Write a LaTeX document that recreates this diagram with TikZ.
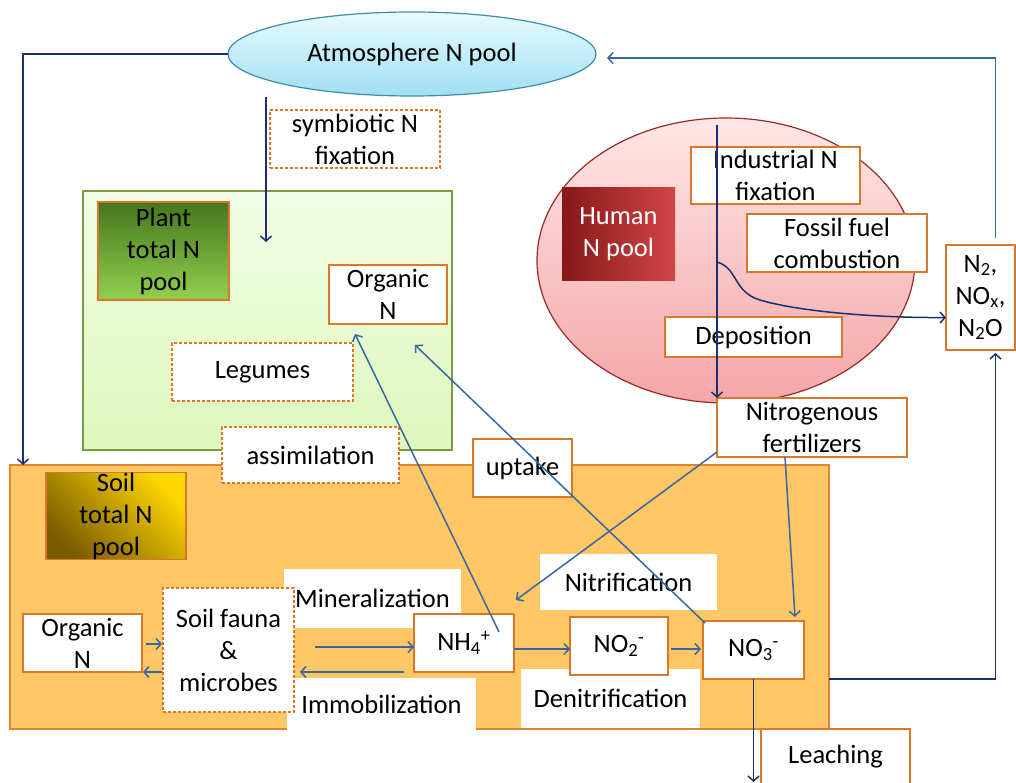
\documentclass[tikz,border=0pt]{standalone}
\usepackage{fontspec}
\setmainfont{Carlito}
\usetikzlibrary{arrows.meta,calc,shapes.geometric}
\definecolor{obord}{HTML}{D9782A}
\definecolor{soilfill}{HTML}{FFC766}
\definecolor{soilbord}{HTML}{E0862F}
\definecolor{plantbord}{HTML}{7C9A45}
\definecolor{ablue}{HTML}{3A67A0}
\definecolor{navy}{HTML}{1E2F70}
\tikzset{
 every node/.style={font=\fontsize{26.5}{32}\selectfont, inner sep=0pt, outer sep=0pt, align=center},
 sz/.style 2 args={minimum width=#1, minimum height=#2},
 obox/.style={rectangle, draw=obord, line width=1.5pt, fill=white},
 dbox/.style={rectangle, draw=obord, line width=1.2pt, dash pattern=on 3pt off 2pt, fill=white},
 wbox/.style={rectangle, fill=white},
 arr/.style={draw=ablue, line width=1.5pt, -{Straight Barb[length=5pt,width=11pt]}},
 narr/.style={arr, draw=navy},
}
\begin{document}
\begin{tikzpicture}[x=1pt,y=-1pt]
\useasboundingbox (0,0) rectangle (1016,783);
% big regions
\node[rectangle, draw=soilbord, line width=1.5pt, fill=soilfill, sz={819}{264}] (soil) at (419.5,597) {};
\node[rectangle, draw=plantbord, line width=1.5pt, top color={rgb,255:red,242;green,253;blue,230}, bottom color={rgb,255:red,221;green,247;blue,188}, sz={369}{259}] (plant) at (267.5,320.5) {};
\node[ellipse, draw={rgb,255:red,154;green,42;blue,42}, line width=1.2pt, top color={rgb,255:red,255;green,230;blue,230}, bottom color={rgb,255:red,244;green,166;blue,168}, sz={378}{285}] (human) at (726,260.5) {};
\node[ellipse, draw={rgb,255:red,60;green,141;blue,170}, line width=1.2pt, top color={rgb,255:red,232;green,250;blue,255}, bottom color={rgb,255:red,159;green,223;blue,242}, sz={368}{84}] (atm) at (412,54) {Atmosphere N pool};
% labels of pools
\node[rectangle, draw=obord, line width=1.5pt, top color={rgb,255:red,70;green,118;blue,28}, bottom color={rgb,255:red,146;green,208;blue,80}, sz={131}{98}] (plantlbl) at (163.5,251) {Plant\\total N\\pool};
\node[rectangle, draw=obord, line width=1.2pt, top color={rgb,255:red,255;green,215;blue,0}, bottom color={rgb,255:red,122;green,92;blue,0}, shading angle=-45, sz={140}{86}] (soillbl) at (116,516) {Soil\\total N\\pool};
\node[rectangle, left color={rgb,255:red,135;green,24;blue,24}, right color={rgb,255:red,210;green,69;blue,69}, text=white, sz={113}{93}] (humlbl) at (618.5,234.5) {Human\\N pool};
% plant boxes
\node[dbox, sz={170}{58}] (sym) at (355,139) {symbiotic N\\fixation};
\node[obox, sz={118}{59}] (orgp) at (388,294.5) {Organic\\N};
\node[dbox, sz={181}{58}] (leg) at (262.5,372) {Legumes};
% human boxes
\node[obox, sz={169}{57}] (ind) at (775.5,175.5) {Industrial N\\fixation};
\node[obox, sz={180}{58}] (fossil) at (837,243) {Fossil fuel\\combustion};
\node[obox, sz={177}{40}] (depo) at (753.5,337) {Deposition};
\node[obox, sz={190}{59}] (fert) at (812,427.5) {Nitrogenous\\fertilizers};
\node[obox, sz={69}{105}] (gas) at (980.5,297.5) {N\textsubscript{2},\\NO\textsubscript{x},\\N\textsubscript{2}O};
% soil boxes
\node[wbox, sz={177}{59}] (mineral) at (372.5,598.5) {Mineralization};
\node[wbox, sz={189}{52}] (immob) at (381.5,704) {Immobilization};
\node[wbox, sz={177}{56}] (nitr) at (628.5,582) {Nitrification};
\node[wbox, sz={179}{59}] (denitr) at (610.5,698.5) {Denitrification};
\node[obox, sz={119}{58}] (orgs) at (82.5,643) {Organic\\N};
\node[dbox, sz={131}{124}] (fauna) at (228.5,650) {Soil fauna\\\&\\microbes};
\node[obox, sz={100}{58}] (nh4) at (464,643) {NH\textsubscript{4}\textsuperscript{+}};
\node[obox, sz={98}{58}] (no2) at (619,646) {NO\textsubscript{2}\textsuperscript{-}};
\node[obox, sz={101}{58}] (no3) at (753.5,650) {NO\textsubscript{3}\textsuperscript{-}};
\node[obox, sz={99}{58}] (uptake) at (522.5,468) {uptake};
\node[dbox, sz={177}{56}] (assim) at (310.5,455) {assimilation};
\node[obox, sz={149}{56}] (leach) at (835.5,757) {Leaching};
\coordinate (leachend) at (753.5,782);
% connectors
\draw[narr] (atm.west) -| ($(soil.north west)+(13,0)$);
\draw[arr] ($(gas.north)+(15,-7)$) |- ($(atm.east)+(11,4)$);
\draw[narr] ($(atm.south)+(-146,1)$) -- ($(plant.north west)+(183,51)$);
\draw[narr] ($(human.north)+(-9,7)$) -- (fert.north west);
\draw[narr] ($(ind.south west)+(26,58)$) .. controls (738,268) and (733,292) .. (760,300) .. controls (800,312) and (880,318) .. ($(gas.west)+(0,20)$);
\draw[narr] (soil.east |- no3.south) -| ($(gas.south)+(15,3)$);
\draw[arr] ($(fert.south west)+(0,-5)$) -- ($(nh4.north east)+(2,-14)$);
\draw[arr] ($(fert.south)+(-27,0)$) -- ($(no3.north east)+(-9,-4)$);
\draw[arr] ($(nh4.north east)+(-15,18)$) -- ($(orgp.south west)+(26,10)$);
\draw[arr] ($(no3.north west)+(2,2)$) -- ($(orgp.south)+(27,21)$);
\draw[arr] ($(orgs.east)+(4,1)$) -- ($(fauna.west)+(-1,-6)$);
\draw[arr] ($(fauna.west)+(-1,22)$) -- ($(orgs.east)+(1,29)$);
\draw[arr] ($(fauna.east)+(21,-3)$) -- ($(nh4.west)+(0,4)$);
\draw[arr] ($(nh4.west)+(-10,29)$) -- ($(fauna.east)+(6,22)$);
\draw[arr] ($(nh4.east)+(0,6)$) -- ($(no2.west)+(0,3)$);
\draw[arr] ($(no2.east)+(3,3)$) -- ($(no3.west)+(-2,-1)$);
\draw[narr] (no3.south) -- (leachend);
\end{tikzpicture}
\end{document}
